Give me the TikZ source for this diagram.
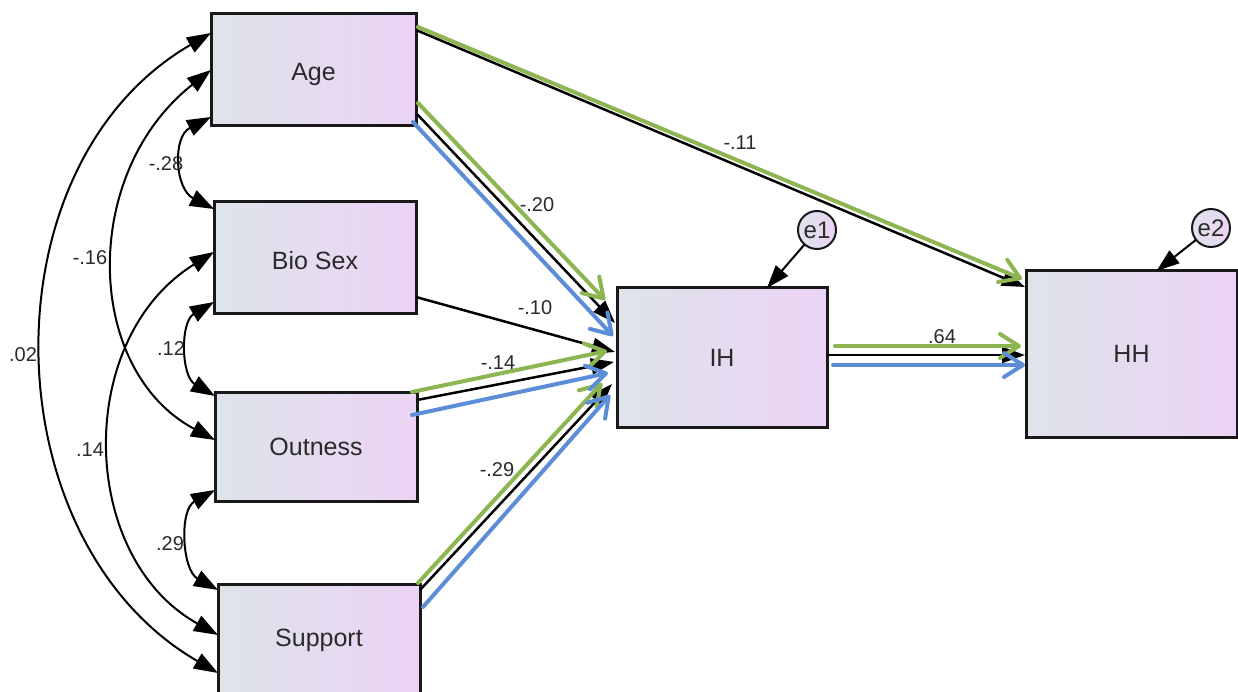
\documentclass[tikz,border=0pt]{standalone}
\usepackage{fontspec}
\setmainfont{Liberation Sans}
\usetikzlibrary{arrows.meta,calc}
\definecolor{gr}{HTML}{8DB552}
\definecolor{bl}{HTML}{5B8ED6}
\definecolor{fillL}{HTML}{DEE4EA}
\definecolor{fillR}{HTML}{ECD3F5}
\definecolor{txt}{HTML}{2A2A2A}
\begin{document}
\begin{tikzpicture}[x=1pt,y=-1pt,
  varbox/.style={draw=black!90, line width=3pt, left color=fillL, right color=fillR,
    inner sep=0pt, outer sep=0pt, font=\fontsize{25}{30}\selectfont, text=txt},
  errc/.style={circle, draw=black!90, line width=2pt, left color=fillL, right color=fillR,
    minimum size=38pt, inner sep=0pt, outer sep=0pt, font=\fontsize{24}{28}\selectfont, text=txt},
  coef/.style={font=\fontsize{20}{24}\selectfont, text=txt, inner sep=0pt},
  blk/.style={draw=black, line width=2.5pt, -{Triangle[length=23pt,width=16pt]}},
  grn/.style={draw=gr, line width=4pt, line cap=round, -{Straight Barb[length=19pt,width=24pt,round]}},
  blu/.style={draw=bl, line width=4pt, line cap=round, -{Straight Barb[length=19pt,width=24pt,round]}},
  cov/.style={draw=black, line width=2pt, {Triangle[length=24pt,width=17pt]}-{Triangle[length=24pt,width=17pt]}}
]
\fill[white] (0,0) rectangle (1238,692);
\useasboundingbox (0,0) rectangle (1238,692);

% boxes
\node[varbox, minimum width=205pt, minimum height=112pt, text height=26pt] (Age) at (313.5,70) {Age};
\node[varbox, minimum width=202pt, minimum height=111pt, text height=25pt] (Bio) at (315,257.5) {Bio Sex};
\node[varbox, minimum width=202pt, minimum height=109pt] (Out) at (316,446.5) {Outness};
\node[varbox, minimum width=202pt, minimum height=112pt] (Sup) at (319,640) {Support};
\node[varbox, minimum width=210pt, minimum height=139pt] (IH) at (722,357.5) {IH};
\node[varbox, minimum width=211pt, minimum height=166pt] (HH) at (1131.5,354) {HH};
\node[errc] (e1) at (817,230) {e1};
\node[errc] (e2) at (1211,228) {e2};

% error arrows
\draw[blk, line width=2pt] (e1) -- ($(IH.north)+(45,0)$);
\draw[blk, line width=2pt] (e2) -- ($(HH.north)+(25,0)$);

% covariances
\draw[cov] ($(Age.north west)+(0,19)$) .. controls +(-228,132) and +(-228,-132) .. ($(Sup.north west)+(0,89)$);
\draw[cov] (Age.west) .. controls +(-131,103) and +(-131,-70) .. ($(Out.west)+(0,-6.5)$);
\draw[cov] ($(Bio.west)+(0,-5.5)$) .. controls +(-140,87) and +(-140,-78) .. ($(Sup.west)+(0,-5)$);
\draw[cov] ($(Age.south west)+(0,-9)$) .. controls +(-39,20) and +(-39,-20) .. ($(Bio.north west)+(0,7)$);
\draw[cov] ($(Bio.south west)+(0,-11)$) .. controls +(-34,20) and +(-34,-20) .. ($(Out.north west)+(0,4)$);
\draw[cov] ($(Out.south west)+(0,-11)$) .. controls +(-36,20) and +(-36,-20) .. ($(Sup.north west)+(0,6)$);

% black structural paths
\draw[blk] ($(Age.north east)+(0,16)$) -- ($(HH.north west)+(-1,16)$);
\draw[blk] ($(Age.south east)+(0,-13)$) -- ($(IH.north west)+(-2,35)$);
\draw[blk] ($(Bio.south east)+(0,-16)$) -- ($(IH.west)+(-2,-5.5)$);
\draw[blk] ($(Out.north east)+(0,8)$) -- ($(IH.west)+(-3,4.5)$);
\draw[blk] ($(Sup.north east)+(0,6)$) -- ($(IH.west)+(-5,26.5)$);
\draw[blk] ($(IH.east)+(0,-2.5)$) -- ($(HH.west)+(-1,1)$);

% green overlay
\draw[grn] ($(Age.north east)+(2,13)$) -- ($(HH.north west)+(-4,8)$);
\draw[grn] ($(Age.south east)+(2,-23)$) -- ($(IH.north west)+(-12,12)$);
\draw[grn] ($(Out.north east)+(-5,0)$) -- ($(IH.west)+(-10,-6.5)$);
\draw[grn] ($(Sup.north east)+(-2,-1)$) -- ($(IH.west)+(-15,25.5)$);
\draw[grn] ($(IH.east)+(8,-11.5)$) -- ($(HH.west)+(-5,-8)$);

% blue overlay
\draw[blu] ($(Age.south east)+(-3,-4)$) -- ($(IH.north west)+(-4,48)$);
\draw[blu] ($(Out.north east)+(-5,23)$) -- ($(IH.west)+(-9,15.5)$);
\draw[blu] ($(Sup.north east)+(3,23)$) -- ($(IH.west)+(-7,37.5)$);
\draw[blu] ($(IH.east)+(6,7.5)$) -- ($(HH.west)+(-1,11)$);

% coefficients
\node[coef] (c1) at (740,143) {-.11};
\node[coef] (c2) at (537,205) {-.20};
\node[coef] (c3) at (535,308) {-.10};
\node[coef] (c4) at (498,363) {-.14};
\node[coef] (c5) at (497,470) {-.29};
\node[coef] (c6) at (942,337) {.64};
\node[coef] (c7) at (166,164) {-.28};
\node[coef] (c8) at (90,258) {-.16};
\node[coef] (c9) at (171,349) {.12};
\node[coef] (c10) at (23,355) {.02};
\node[coef] (c11) at (90,450) {.14};
\node[coef] (c12) at (170,544) {.29};
\end{tikzpicture}
\end{document}
